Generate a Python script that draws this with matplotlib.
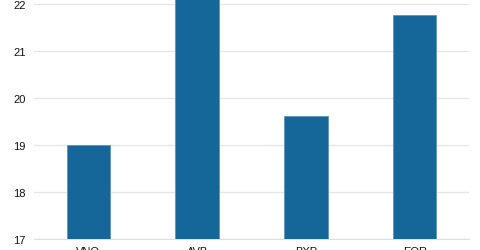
import numpy as np
import matplotlib.pyplot as plt

# data
tickers = ["VNO", "AVB", "BXP", "EQR"]
values = [19.0, 22.3, 19.62, 21.77]
y_ticks = [17, 18, 19, 20, 21, 22]

plt.rcParams['font.family'] = ['Liberation Sans', 'DejaVu Sans']

fig = plt.figure(figsize=(4.8, 2.51), dpi=100)
ax = fig.add_axes([34 / 480, 11 / 251, (469 - 34) / 480, 240 / 251])

x = np.arange(len(tickers))
ax.bar(x, values, width=0.4, color="#15679a", edgecolor="#5f93b8", linewidth=0.6, zorder=3)

ax.set_xlim(-0.5, len(tickers) - 0.5)
ax.set_ylim(17, 22.1)
ax.set_yticks(y_ticks)
ax.set_xticks(x)
ax.set_xticklabels(tickers)
ax.grid(axis="y", color="#e6e6e6", linewidth=1, zorder=0)
ax.tick_params(axis="both", length=0, labelsize=8, colors="#111111")
ax.tick_params(axis="y", pad=6)
ax.tick_params(axis="x", pad=5)
for s in ["top", "right", "left"]:
    ax.spines[s].set_visible(False)
ax.spines["bottom"].set_color("#e0e0e0")

fig.savefig("out.png", dpi=100)
